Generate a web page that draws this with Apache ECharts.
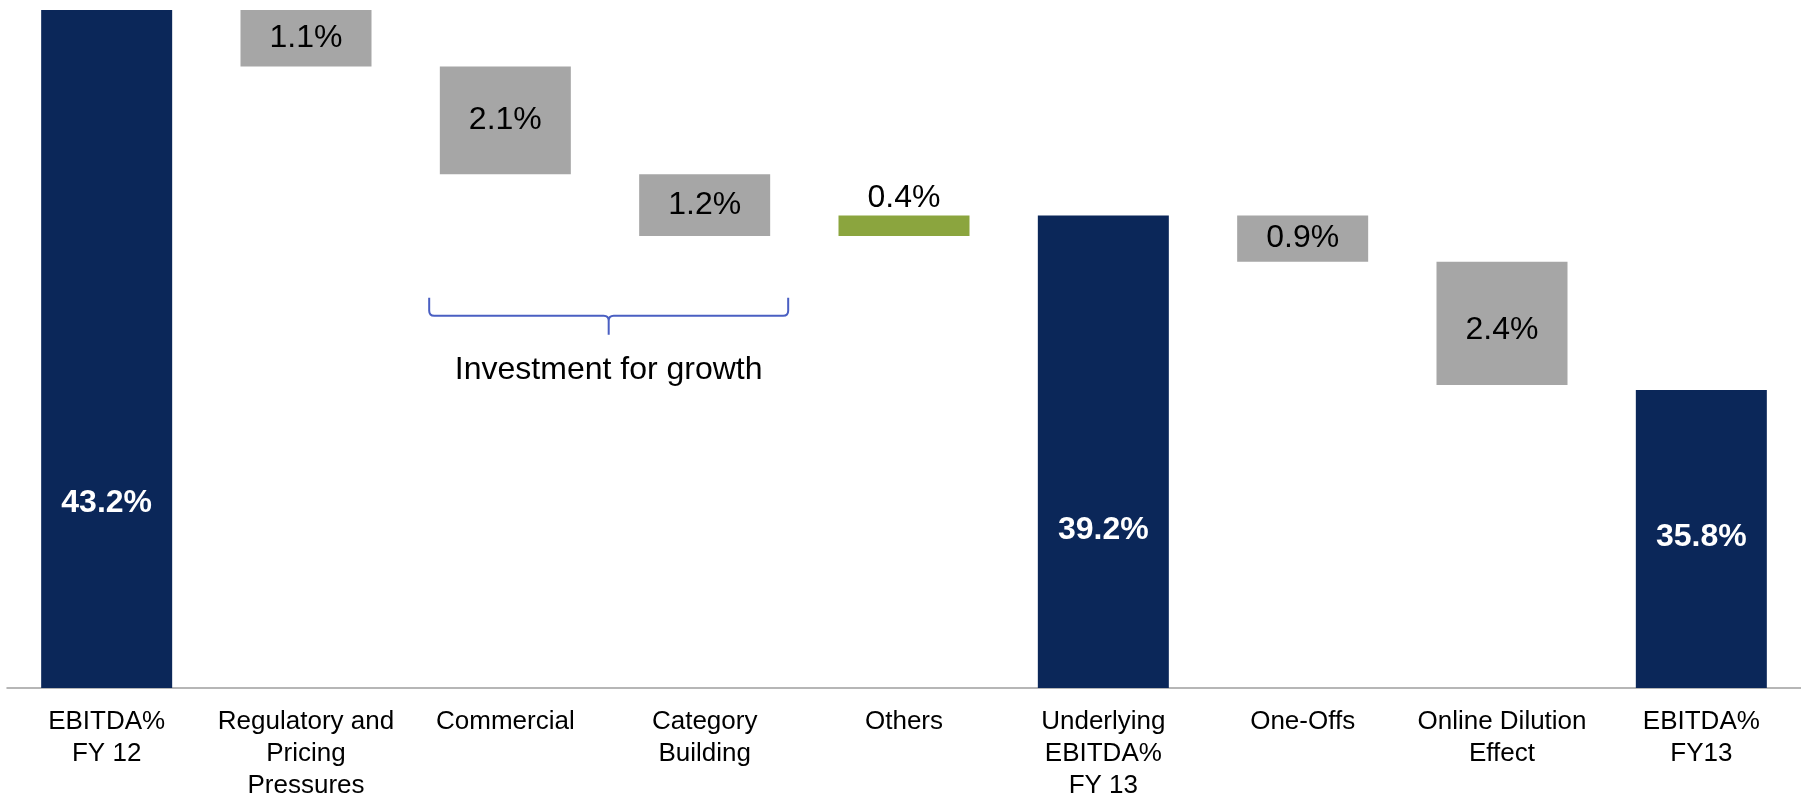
<!DOCTYPE html>
<html>
<head>
<meta charset="utf-8">
<title>EBITDA% bridge FY12 to FY13</title>
<script src="https://cdn.jsdelivr.net/npm/echarts@6/dist/echarts.min.js"></script>
<style>
  html, body { margin: 0; padding: 0; background: #ffffff; }
  #chart { width: 1801px; height: 802px; }
</style>
</head>
<body>
<div id="chart"></div>
<script>
// Bridge categories (x axis)
const categories = [
  'EBITDA%\nFY 12',
  'Regulatory and\nPricing\nPressures',
  'Commercial',
  'Category\nBuilding',
  'Others',
  'Underlying\nEBITDA%\nFY 13',
  'One-Offs',
  'Online Dilution\nEffect',
  'EBITDA%\nFY13'
];

// Totals (full bars), in % of revenue
const totals = [43.2, null, null, null, null, 39.2, null, null, 35.8];

// Movements between totals, in percentage points
const changes = [null, -1.1, -2.1, -1.2, 0.4, null, -0.9, -2.4, null];

// Bracket grouping the growth investments
const bracketFrom = 2;
const bracketTo = 3;
const bracketText = 'Investment for growth';

// ---- styling ----
const FONT = '"Liberation Sans", Arial, Helvetica, sans-serif';
const NAVY = '#0B2759';
const GREY = '#A6A6A6';
const GREEN = '#8BA53E';
const BRACE = '#4A5FC2';
const BAR_W = 131;
// lift of the white value labels above the axis, per total bar
const totalLabelDistance = { 0: 169, 5: 142, 8: 135 };
// small vertical nudges for individual movement labels
const changeLabelNudge = { 7: 7 };
const bracketLevel = 37.6;

const r1 = v => Math.round(v * 10) / 10;

// Floating bar geometry for the movements
const offsets = [];
const heights = [];
let level = 0;
categories.forEach((c, i) => {
  if (totals[i] != null) {
    level = totals[i];
    offsets.push('-');
    heights.push('-');
  } else {
    const d = changes[i];
    offsets.push(r1(d < 0 ? level + d : level));
    heights.push(r1(Math.abs(d)));
    level = r1(level + d);
  }
});

const changeData = heights.map((h, i) => {
  if (h === '-') return '-';
  const up = changes[i] > 0;
  return {
    value: h,
    itemStyle: { color: up ? GREEN : GREY },
    label: up
      ? { position: 'top', distance: 1 }
      : { position: 'inside', offset: [0, changeLabelNudge[i] || 0] }
  };
});

const totalData = totals.map((v, i) => {
  if (v == null) return '-';
  return {
    value: v,
    label: { distance: totalLabelDistance[i] }
  };
});

const chart = echarts.init(document.getElementById('chart'), null, { renderer: 'canvas' });

chart.setOption({
  backgroundColor: '#ffffff',
  animation: false,
  grid: { left: 7, right: 0, top: 10, bottom: 110, containLabel: false },
  xAxis: {
    type: 'category',
    data: categories,
    axisTick: { show: false },
    axisLine: { onZero: false, lineStyle: { color: '#9E9E9E', width: 1.5 } },
    axisLabel: {
      interval: 0,
      margin: 18,
      color: '#000000',
      fontFamily: FONT,
      fontSize: 26,
      lineHeight: 32,
      align: 'center'
    },
    splitLine: { show: false }
  },
  yAxis: {
    type: 'value',
    min: 30,
    max: 43.2,
    show: false,
    splitLine: { show: false }
  },
  series: [
    {
      name: 'Offset',
      type: 'bar',
      stack: 'bridge',
      barWidth: BAR_W,
      barGap: '-100%',
      clip: true,
      silent: true,
      itemStyle: { color: 'rgba(0,0,0,0)' },
      data: offsets
    },
    {
      name: 'Movement',
      type: 'bar',
      stack: 'bridge',
      barWidth: BAR_W,
      barGap: '-100%',
      clip: true,
      label: {
        show: true,
        color: '#000000',
        fontFamily: FONT,
        fontSize: 32,
        formatter: p => Math.abs(changes[p.dataIndex]).toFixed(1) + '%'
      },
      data: changeData
    },
    {
      name: 'EBITDA%',
      type: 'bar',
      barWidth: BAR_W,
      barGap: '-100%',
      clip: true,
      itemStyle: { color: NAVY },
      label: {
        show: true,
        position: 'insideBottom',
        color: '#ffffff',
        fontFamily: FONT,
        fontWeight: 'bold',
        fontSize: 32,
        lineHeight: 32,
        formatter: p => totals[p.dataIndex].toFixed(1) + '%'
      },
      data: totalData
    },
    {
      name: 'Bracket',
      type: 'custom',
      silent: true,
      clip: false,
      encode: { x: 0, y: 1 },
      data: [[bracketFrom, bracketLevel, bracketTo]],
      renderItem: (params, api) => {
        const a = api.coord([api.value(0), api.value(1)]);
        const b = api.coord([api.value(2), api.value(1)]);
        const band = api.size([1, 0])[0];
        const left = a[0] - band * 0.382;
        const right = b[0] + band * 0.419;
        const mid = (left + right) / 2;
        const top = a[1];
        const line = top + 18;
        const tip = top + 37;
        const r = 5;
        const path = [
          'M', left, top,
          'L', left, line - r,
          'Q', left, line, left + r, line,
          'L', mid - r, line,
          'Q', mid, line, mid, line + r,
          'L', mid, tip,
          'M', mid, line + r,
          'Q', mid, line, mid + r, line,
          'L', right - r, line,
          'Q', right, line, right, line - r,
          'L', right, top
        ].join(' ');
        return {
          type: 'group',
          children: [
            {
              type: 'path',
              shape: { pathData: path },
              style: { fill: null, stroke: BRACE, lineWidth: 2 }
            },
            {
              type: 'text',
              style: {
                text: bracketText,
                x: mid,
                y: top + 73,
                align: 'center',
                verticalAlign: 'middle',
                fill: '#000000',
                font: '32px ' + FONT
              }
            }
          ]
        };
      }
    }
  ]
});
</script>
</body>
</html>
